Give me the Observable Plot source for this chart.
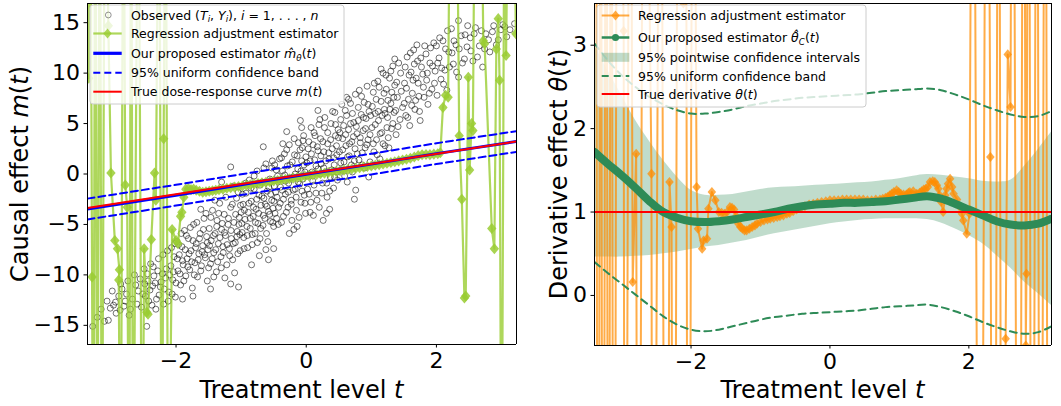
<!DOCTYPE html>
<html><head><meta charset="utf-8">
<script src="https://cdn.jsdelivr.net/npm/d3@7"></script>
<script src="https://cdn.jsdelivr.net/npm/@observablehq/plot@0.6"></script>
<style>
body{margin:0;background:#fff;}
#wrap{display:flex;width:1061px;height:406px;overflow:hidden;}
svg{font-family:"DejaVu Sans";}
</style></head><body><div id="wrap"></div>
<script>
// ---------- Left panel data ----------
const xTicks = [-2, 0, 2];
const yTicksLeft = [-15, -10, -5, 0, 5, 10, 15];
const yTicksRight = [0, 1, 2, 3];

const obsPoints = [
[-3.28,-15.1],[-3.21,-14.2],[-3.15,-13.4],[-3.1,-14.6],[-3.06,-12.6],[-3.04,-14.5],[-3.01,-13.3],
[-2.98,-11.6],[-2.96,-13.0],[-2.92,-13.8],[-2.88,-12.1],[-2.85,-10.9],[-2.8,-13.1],[-2.76,-11.9],[-2.72,-14.0],[-2.67,-12.4],[-2.64,-10.0],[-2.58,-11.6],[-2.53,-13.2],
[-2.49,-9.4],[-2.47,-12.1],[-2.45,-15.1],[-2.43,-10.6],[-2.4,-11.5],[-2.37,-13.0],[-2.35,-9.2],[-2.32,-10.8],[-2.3,-12.4],[-2.27,-8.4],[-2.24,-11.2],[-2.21,-9.9],[-2.19,-12.9],[-2.16,-10.3],[-2.13,-7.6],[-2.11,-11.7],[-2.08,-9.1],[-2.05,-10.5],[-2.03,-8.2],[-2.01,-12.2],
[-1.99,-6.7],[-1.97,-9.6],[-1.95,-8.0],[-1.93,-11.0],[-1.91,-7.2],[-1.89,-9.0],[-1.87,-5.6],[-1.85,-10.1],[-1.83,-8.4],[-1.81,-6.4],[-1.79,-9.5],[-1.77,-7.6],[-1.75,-11.3],[-1.73,-5.0],[-1.71,-8.8],[-1.69,-6.9],[-1.67,-10.2],[-1.65,-7.9],[-1.63,-5.9],[-1.61,-9.1],[-1.59,-7.1],[-1.57,-4.4],[-1.55,-8.3],[-1.53,-6.2],[-1.52,-10.6],[-1.51,-7.5],
[-1.49,-5.4],[-1.47,-8.9],[-1.46,-6.6],[-1.44,-3.6],[-1.42,-7.8],[-1.4,-5.9],[-1.38,-9.7],[-1.37,-4.6],[-1.35,-6.9],[-1.33,-2.9],[-1.31,-8.2],[-1.3,-5.5],[-1.28,-7.2],[-1.26,-4.0],[-1.24,-6.1],[-1.22,-9.0],[-1.2,-5.0],[-1.18,-7.4],[-1.16,-3.3],[-1.15,-6.4],[-1.13,-8.5],[-1.11,-4.8],[-1.09,-6.8],[-1.07,-2.4],[-1.06,-5.7],[-1.05,-7.9],[-1.04,-11.2],[-1.03,-4.3],[-1.02,-6.0],[-1.01,-3.1],[-1.16,-10.9],[-1.47,-11.4],[-1.16,0.7],
[-0.99,-4.9],[-0.98,-2.0],[-0.96,-6.3],[-0.95,-3.6],[-0.93,-0.9],[-0.91,-5.2],[-0.9,-7.3],[-0.88,-2.9],[-0.86,-4.4],[-0.85,-1.4],[-0.83,-6.0],[-0.81,-3.3],[-0.8,-0.2],[-0.78,-4.8],[-0.76,-2.5],[-0.75,-6.8],[-0.73,-3.9],[-0.71,-1.1],[-0.7,-5.4],[-0.68,-2.2],[-0.66,-4.1],[-0.65,0.6],[-0.63,-3.0],[-0.61,-5.9],[-0.6,-1.7],[-0.58,-3.7],[-0.56,-0.5],[-0.55,-4.7],[-0.53,-2.6],[-0.52,1.3],[-0.51,-3.4],[-0.5,-5.2],[-0.72,-8.1],[-0.62,-7.5],[-0.66,2.7],[-0.5,-7.4],
[-0.49,-1.2],[-0.48,-3.9],[-0.46,0.4],[-0.45,-2.3],[-0.43,-5.0],[-0.42,-0.6],[-0.4,-2.9],[-0.38,1.6],[-0.37,-1.6],[-0.35,-4.2],[-0.33,-0.1],[-0.32,-2.0],[-0.3,2.4],[-0.28,-3.3],[-0.27,-0.9],[-0.25,0.9],[-0.23,-2.6],[-0.22,-4.6],[-0.2,-0.3],[-0.18,1.9],[-0.17,-1.5],[-0.15,-3.6],[-0.13,0.5],[-0.12,3.1],[-0.1,-1.0],[-0.08,-2.8],[-0.07,1.3],[-0.05,-0.5],[-0.04,3.8],[-0.03,-2.1],[-0.02,0.2],[-0.01,-3.9],[-0.36,3.0],[-0.26,-5.9],[-0.14,-5.2],[-0.06,2.6],[-0.09,5.3],[-0.07,4.6],
[0.01,1.1],[0.02,-1.5],[0.04,3.2],[0.05,0.0],[0.07,-2.8],[0.08,2.0],[0.1,-0.7],[0.12,4.1],[0.13,1.4],[0.15,-1.9],[0.17,2.7],[0.18,0.5],[0.2,-3.3],[0.22,3.5],[0.23,1.0],[0.25,-0.9],[0.27,2.2],[0.28,4.6],[0.3,0.2],[0.32,-2.3],[0.33,3.0],[0.35,1.5],[0.37,-0.3],[0.38,5.0],[0.4,2.5],[0.42,-1.4],[0.43,0.9],[0.45,3.8],[0.47,1.9],[0.48,-0.6],[0.49,4.4],[0.11,-4.1],[0.26,-4.6],[0.36,-3.5],[0.44,6.1],[0.21,5.4],
[0.51,2.2],[0.53,5.4],[0.54,0.4],[0.56,3.5],[0.58,1.2],[0.6,6.3],[0.61,2.8],[0.63,-0.8],[0.65,4.4],[0.66,1.8],[0.68,7.0],[0.7,3.2],[0.71,0.2],[0.73,5.1],[0.75,2.5],[0.76,-1.6],[0.78,4.0],[0.8,6.6],[0.81,1.4],[0.83,3.6],[0.85,7.7],[0.86,2.1],[0.88,5.6],[0.9,0.6],[0.91,4.5],[0.93,2.9],[0.95,6.9],[0.96,-0.3],[0.98,3.9],[0.99,5.8],[0.62,7.6],[0.74,-2.5],
[1.01,4.6],[1.03,8.1],[1.04,2.2],[1.06,6.0],[1.08,3.4],[1.1,9.2],[1.11,5.3],[1.13,1.5],[1.15,7.2],[1.16,4.1],[1.18,10.0],[1.2,6.4],[1.21,2.8],[1.23,8.4],[1.25,5.6],[1.26,3.6],[1.28,9.5],[1.3,7.0],[1.31,4.5],[1.33,10.7],[1.35,6.1],[1.36,8.8],[1.38,3.9],[1.4,7.6],[1.42,11.0],[1.44,5.4],[1.46,8.2],[1.48,6.6],
[1.51,9.0],[1.53,5.8],[1.55,11.6],[1.57,7.4],[1.59,4.8],[1.61,10.1],[1.63,8.0],[1.65,12.3],[1.67,6.4],[1.69,9.5],[1.71,11.2],[1.73,7.7],[1.75,5.3],[1.77,10.6],[1.8,8.6],[1.82,12.7],[1.85,9.3],[1.87,6.9],[1.9,11.0],[1.93,8.4],[1.96,13.0],[1.98,10.2],
[2.01,7.8],[2.04,11.5],[2.07,9.4],[2.1,13.2],[2.13,10.3],[2.16,8.3],[2.19,12.1],[2.23,14.4],[2.26,10.9],[2.3,12.8],[2.34,9.6],[2.38,13.7],[2.43,11.4],[2.47,12.6],[2.34,15.2],[2.0,12.7],
[2.52,13.5],[2.56,11.2],[2.6,14.5],[2.66,12.7],[2.71,10.6],[2.76,13.9],[2.82,12.1],[2.88,14.7],[2.95,13.3],
[3.02,14.8],[3.08,13.6],[3.13,14.3],[3.2,14.9]
];
const obsPoints2 = [
[-2.93,-12.7],[-2.86,-13.5],[-2.83,-11.4],[-2.78,-12.6],[-2.74,-10.6],[-2.7,-13.4],[-2.62,-11.0],[-2.6,-12.9],[-2.55,-10.4],[-2.51,-11.9],
[-2.48,-10.9],[-2.44,-9.9],[-2.42,-12.6],[-2.39,-8.9],[-2.36,-11.1],[-2.34,-10.1],[-2.31,-13.4],[-2.28,-9.6],[-2.26,-12.0],[-2.23,-10.7],[-2.2,-8.0],[-2.18,-11.4],[-2.15,-9.4],[-2.12,-12.6],[-2.1,-10.0],[-2.07,-7.3],[-2.06,-11.9],[-2.04,-9.7],[-2.02,-6.9],[-2.0,-10.8],
[-1.98,-8.4],[-1.96,-7.0],[-1.94,-9.9],[-1.92,-5.9],[-1.9,-8.6],[-1.88,-10.6],[-1.86,-7.5],[-1.84,-6.1],[-1.82,-9.2],[-1.8,-7.9],[-1.78,-5.3],[-1.76,-8.7],[-1.74,-6.6],[-1.72,-10.0],[-1.7,-7.3],[-1.68,-4.8],[-1.66,-8.5],[-1.64,-6.4],[-1.62,-9.6],[-1.6,-7.7],[-1.58,-5.5],[-1.56,-8.0],[-1.54,-3.9],[-1.52,-6.8],[-1.5,-9.3],[-1.62,-3.5],[-1.74,-12.1],[-1.9,-12.4],
[-1.485,-7.1],[-1.465,-4.3],[-1.445,-8.4],[-1.425,-6.1],[-1.405,-2.6],[-1.39,-7.5],[-1.375,-5.2],[-1.36,-8.7],[-1.345,-3.9],[-1.325,-6.3],[-1.305,-9.3],[-1.29,-4.9],[-1.275,-7.8],[-1.255,-5.8],[-1.235,-2.3],[-1.215,-7.0],[-1.195,-4.4],[-1.175,-8.1],[-1.155,-5.6],[-1.135,-3.0],[-1.12,-6.9],[-1.1,-9.8],[-1.085,-4.0],[-1.065,-6.2],[-1.045,-1.8],[-1.035,-5.0],[-1.015,-7.6],[-1.0,-3.8],[-1.25,-10.3],[-1.42,-10.2],[-1.12,-1.2],[-1.3,-0.8],
[-0.985,-5.8],[-0.97,-3.0],[-0.955,-7.4],[-0.94,-4.5],[-0.925,-1.9],[-0.905,-6.1],[-0.89,-3.8],[-0.875,-0.6],[-0.86,-5.4],[-0.845,-2.7],[-0.83,-7.0],[-0.815,-4.2],[-0.8,-1.5],[-0.785,-5.9],[-0.77,-3.5],[-0.755,0.3],[-0.74,-4.9],[-0.725,-2.1],[-0.71,-6.4],[-0.695,-3.1],[-0.68,-0.8],[-0.665,-5.1],[-0.65,-2.4],[-0.635,-4.4],[-0.62,1.0],[-0.605,-3.2],[-0.59,-6.7],[-0.575,-1.3],[-0.56,-4.0],[-0.545,-2.0],[-0.53,0.6],[-0.515,-4.8],[-0.84,-9.0],[-0.58,-8.5],
[-0.495,-2.7],[-0.485,0.9],[-0.47,-1.8],[-0.455,-4.4],[-0.44,-0.2],[-0.425,-3.3],[-0.41,1.5],[-0.395,-1.3],[-0.38,-4.8],[-0.365,0.3],[-0.35,-2.5],[-0.335,2.0],[-0.32,-0.7],[-0.305,-3.8],[-0.29,0.8],[-0.275,-1.8],[-0.26,2.9],[-0.245,-0.4],[-0.23,-3.0],[-0.215,1.2],[-0.2,-1.6],[-0.185,3.5],[-0.17,0.0],[-0.155,-2.3],[-0.14,1.8],[-0.125,-0.8],[-0.11,-4.3],[-0.095,2.4],[-0.08,0.3],[-0.065,-1.7],[-0.05,3.3],[-0.035,0.9],[-0.02,-2.9],[-0.005,1.7],[-0.3,4.2],[-0.19,-5.5],
[0.015,-0.2],[0.03,2.5],[0.045,-2.0],[0.06,1.3],[0.075,4.6],[0.09,0.2],[0.105,2.9],[0.12,-1.1],[0.135,3.8],[0.15,0.8],[0.165,-2.6],[0.18,2.3],[0.195,4.9],[0.21,0.0],[0.225,1.8],[0.24,-1.9],[0.255,3.2],[0.27,0.6],[0.285,5.6],[0.3,1.3],[0.315,-0.9],[0.33,4.1],[0.345,2.1],[0.36,-1.7],[0.375,3.4],[0.39,0.4],[0.405,6.2],[0.42,1.6],[0.435,-0.3],[0.45,4.9],[0.465,2.8],[0.48,0.2],[0.495,3.6],[0.06,-3.8],[0.31,-3.9],[0.18,6.3],
[0.515,4.1],[0.53,1.1],[0.545,6.9],[0.56,2.4],[0.575,4.8],[0.59,-0.2],[0.605,3.9],[0.62,5.8],[0.635,1.7],[0.65,7.4],[0.665,3.0],[0.68,5.0],[0.695,0.9],[0.71,6.0],[0.725,3.7],[0.74,1.3],[0.755,7.9],[0.77,4.7],[0.785,2.0],[0.8,5.3],[0.815,8.3],[0.83,3.1],[0.845,5.9],[0.86,0.9],[0.875,4.3],[0.89,7.1],[0.905,2.6],[0.92,5.5],[0.935,8.7],[0.95,3.4],[0.965,6.2],[0.98,1.2],
[1.015,6.7],[1.03,3.0],[1.045,9.0],[1.06,4.9],[1.075,7.4],[1.09,1.9],[1.105,6.2],[1.12,8.6],[1.135,4.0],[1.15,10.4],[1.165,5.8],[1.18,3.0],[1.195,8.0],[1.21,6.0],[1.225,9.8],[1.24,4.6],[1.255,7.3],[1.27,2.6],[1.285,6.4],[1.3,10.2],[1.315,8.1],[1.33,5.0],[1.345,7.6],[1.36,11.4],[1.375,6.3],[1.39,9.1],[1.41,4.7],[1.45,10.0],
[1.505,7.0],[1.52,10.6],[1.54,8.5],[1.56,5.6],[1.58,9.8],[1.6,12.0],[1.62,6.8],[1.64,9.3],[1.66,10.9],[1.68,7.3],[1.7,12.8],[1.72,9.0],[1.74,6.2],[1.76,11.5],[1.79,9.9],[1.81,7.6],[1.84,11.9],[1.86,10.0],[1.89,8.0],[1.91,12.5],[1.94,10.7],[1.97,9.0],
[2.02,11.0],[2.05,13.5],[2.08,10.5],[2.11,8.9],[2.14,12.4],[2.17,14.2],[2.2,10.6],[2.24,12.0],[2.27,13.2],[2.31,10.1],[2.35,12.4],[2.4,11.0],[2.44,13.8],[2.48,14.7],
[2.53,12.2],[2.58,13.9],[2.63,11.6],[2.69,14.2],[2.74,12.4],[2.8,13.3],[2.86,14.1],[2.92,12.8],[2.99,14.3],[3.05,14.6]
];

const regAdjLeft = [
[-3.34,9.5],[-3.32,40],[-3.29,-10.2],[-3.27,-40],[-3.24,40],[-3.21,-40],[-3.17,40],[-3.14,-40],[-3.09,40],[-3.04,14.7],
[-3.0,0.1],[-2.94,-6.6],[-2.9,-7.4],[-2.87,-9.5],[-2.88,-10.5],[-2.85,-40],[-2.81,40],[-2.78,-1.1],[-2.75,-3.3],[-2.72,-40],
[-2.69,40],[-2.66,-40],[-2.58,40],[-2.52,-40],[-2.49,-7.4],[-2.45,-13.7],[-2.43,-13.9],[-2.38,-6.5],[-2.33,0.1],[-2.31,-2.6],
[-2.26,40],[-2.22,-40],[-2.19,3.5],[-2.16,40],[-2.12,-40],[-2.06,-5.5],[-2.0,-6.6],[-1.97,-6.9],[-1.93,-4.2],[-1.91,-3.8],[-1.88,-2.3],
[-1.85,-1.5],[-1.81,-1.45],[-1.77,-1.55],[-1.73,-1.5],[-1.69,-1.6],[-1.64,-1.7],[-1.59,-1.8],[-1.54,-1.75],[-1.49,-1.7],[-1.44,-1.65],
[-1.39,-1.6],[-1.34,-1.55],[-1.28,-1.5],[-1.22,-1.42],[-1.16,-1.36],[-1.1,-1.3],[-1.04,-1.24],[-0.98,-1.18],[-0.92,-1.12],[-0.86,-1.06],
[-0.8,-1.0],[-0.74,-0.95],[-0.68,-0.88],[-0.62,-0.82],[-0.56,-0.76],[-0.5,-0.7],[-0.44,-0.64],[-0.38,-0.58],[-0.32,-0.52],[-0.26,-0.47],
[-0.2,-0.41],[-0.14,-0.35],[-0.08,-0.29],[-0.02,-0.22],[0.04,-0.16],[0.1,-0.1],[0.16,-0.04],[0.22,0.02],[0.28,0.08],[0.34,0.14],
[0.4,0.2],[0.46,0.26],[0.52,0.32],[0.58,0.38],[0.64,0.44],[0.7,0.5],[0.76,0.56],[0.82,0.62],[0.88,0.68],[0.94,0.74],
[1.0,0.8],[1.06,0.86],[1.12,0.93],[1.18,1.0],[1.24,1.07],[1.3,1.14],[1.36,1.22],[1.42,1.3],[1.48,1.38],[1.54,1.46],
[1.6,1.56],[1.66,1.68],[1.72,1.82],[1.78,1.9],[1.84,1.94],[1.9,1.92],[1.96,1.97],[2.02,2.0],
[2.06,2.1],[2.1,6.6],[2.14,7.8],[2.18,7.6],[2.22,40],[2.3,40],[2.35,3.8],[2.39,-2.5],[2.43,-12.3],[2.45,-12.1],
[2.49,9.6],[2.51,0.4],[2.54,5.0],[2.56,4.3],[2.6,40],[2.67,40],[2.72,13.2],[2.74,12.9],[2.85,-5.4],[2.89,-7.4],
[2.92,12.4],[2.95,15.4],[2.97,9.3],[3.0,-40],[3.05,40],[3.07,11.75],[3.12,40],[3.17,40],[3.22,13.9]
];

const estT = [-3.36, -2, -1, 0, 1, 2, 3.23];
const estM = [-3.47, -2.1, -1.06, -0.03, 0.98, 2.02, 3.22];
const ucbUpperLeft = [-2.44, -1.07, -0.03, 1.0, 2.01, 3.05, 4.25];
const ucbLowerLeft = [-4.5, -3.13, -2.09, -1.06, -0.05, 0.99, 2.19];
const trueT = [-3.36, 3.23];
const trueM = [-3.36, 3.23];
const xDomainLeft = [-3.36, 3.23];
const yDomainLeft = [-16.9, 16.9];

// ---------- Right panel data ----------
const gridT = [-3.39,-3.2,-3.0,-2.8,-2.6,-2.4,-2.2,-2.0,-1.8,-1.6,-1.4,-1.2,-1.0,-0.8,-0.6,-0.4,-0.2,0,0.2,0.4,0.6,0.8,1.0,1.2,1.4,1.6,1.8,2.0,2.2,2.4,2.6,2.8,3.0,3.19];
const thetaHat = [1.72,1.58,1.44,1.29,1.13,1.0,0.93,0.89,0.88,0.89,0.91,0.94,0.97,1.0,1.04,1.07,1.09,1.1,1.11,1.11,1.12,1.13,1.15,1.17,1.19,1.16,1.1,1.03,0.96,0.89,0.85,0.84,0.86,0.92];
const ciUpper = [3.0,2.7,2.4,2.1,1.85,1.62,1.42,1.26,1.2,1.2,1.21,1.24,1.27,1.29,1.3,1.31,1.32,1.33,1.34,1.35,1.36,1.38,1.4,1.43,1.45,1.44,1.42,1.4,1.37,1.36,1.38,1.55,1.75,1.96];
const ciLower = [0.46,0.46,0.46,0.47,0.48,0.5,0.52,0.55,0.58,0.6,0.63,0.66,0.7,0.74,0.77,0.8,0.83,0.86,0.88,0.9,0.91,0.92,0.92,0.92,0.91,0.87,0.8,0.72,0.62,0.48,0.33,0.16,0.02,-0.12];
const ucbUpperRight = [3.02,2.82,2.64,2.5,2.38,2.29,2.22,2.18,2.18,2.2,2.23,2.27,2.3,2.33,2.35,2.37,2.38,2.39,2.4,2.41,2.43,2.45,2.46,2.47,2.48,2.46,2.41,2.35,2.28,2.22,2.17,2.14,2.15,2.21];
const ucbLowerRight = [0.4,0.27,0.14,0.01,-0.12,-0.25,-0.35,-0.41,-0.43,-0.41,-0.37,-0.33,-0.29,-0.26,-0.24,-0.22,-0.21,-0.2,-0.19,-0.18,-0.16,-0.14,-0.13,-0.12,-0.11,-0.14,-0.19,-0.25,-0.32,-0.38,-0.43,-0.46,-0.44,-0.37];
const trueTheta = [1, 1];
const trueThetaT = [-3.39, 3.19];
const xDomainRight = [-3.39, 3.19];
const yDomainRight = [-0.6, 3.5];

const regAdjRight = [
[-3.37,10],[-3.34,-10],[-3.3,10],[-3.27,-10],[-3.22,10],[-3.19,-10],[-3.15,10],[-3.11,-10],[-3.06,10],[-2.97,3.17],
[-2.95,-10],[-2.88,10],[-2.84,0.16],[-2.79,1.7],[-2.76,-10],[-2.68,10],[-2.57,1.46],[-2.55,-10],[-2.44,10],[-2.36,-10],
[-2.31,1.36],[-2.28,0.82],[-2.25,-10],[-2.18,10],[-2.11,3.5],[-2.08,10],[-2.04,-10],[-1.97,10],
[-1.92,1.3],[-1.9,0.8],[-1.84,0.56],[-1.82,0.66],[-1.77,0.68],[-1.75,1.04],[-1.7,1.24],[-1.65,1.14],
[-1.6,1.0],[-1.56,0.99],[-1.52,0.98],[-1.48,1.0],[-1.44,1.06],[-1.41,1.05],[-1.38,1.03],[-1.35,0.95],[-1.32,0.86],[-1.29,0.82],
[-1.26,0.8],[-1.23,0.78],[-1.2,0.78],[-1.16,0.8],[-1.12,0.82],[-1.08,0.84],[-1.05,0.86],[-1.0,0.88],[-0.95,0.9],[-0.9,0.91],
[-0.86,0.92],[-0.81,0.93],[-0.76,0.94],[-0.72,0.95],[-0.67,0.96],[-0.62,0.98],[-0.58,0.99],[-0.53,1.01],[-0.48,1.03],[-0.42,1.05],
[-0.36,1.07],[-0.3,1.09],[-0.24,1.1],[-0.18,1.11],[-0.12,1.12],[-0.06,1.13],[0,1.14],[0.06,1.14],[0.12,1.14],[0.18,1.15],
[0.24,1.15],[0.3,1.15],[0.36,1.15],[0.42,1.15],[0.48,1.15],[0.54,1.14],[0.6,1.14],[0.66,1.15],[0.72,1.15],[0.76,1.16],
[0.8,1.17],[0.83,1.18],[0.86,1.2],[0.89,1.22],[0.92,1.24],[0.96,1.26],[0.99,1.24],[1.02,1.22],[1.06,1.21],[1.1,1.21],
[1.13,1.23],[1.15,1.24],[1.2,1.25],[1.25,1.22],[1.29,1.23],[1.32,1.25],[1.35,1.27],[1.38,1.28],[1.41,1.3],[1.44,1.36],
[1.48,1.37],[1.51,1.36],[1.54,1.32],[1.56,1.28],[1.58,1.2],[1.6,1.12],[1.63,1.0],[1.66,1.2],[1.68,1.28],[1.7,1.34],
[1.73,1.4],[1.76,1.3],[1.78,1.22],[1.83,1.15],[1.87,1.06],[1.9,0.98],[1.92,0.9],[1.97,0.74],[2.01,0.98],
[2.06,10],[2.16,-10],[2.26,10],[2.31,1.66],[2.36,-10],[2.43,10],[2.48,-10],[2.53,-0.52],[2.56,2.89],[2.6,2.26],
[2.63,10],[2.72,-10],[2.79,10],[2.82,-0.6],[2.83,0.26],[2.86,10],[2.91,-10],[2.98,10],[3.03,-10],[3.1,10],[3.15,-10]
];

// ---------- helpers ----------
const diamond = {draw(ctx, size){ const r = Math.sqrt(size/2); ctx.moveTo(0,-r); ctx.lineTo(r*0.85,0); ctx.lineTo(0,r); ctx.lineTo(-r*0.85,0); ctx.closePath(); }};
const zip = (a, b) => a.map((v, i) => ({t: v, v: b[i]}));
const fmt = d3.format("d");

function rich(g, x, y, parts, size, extra) {
  const t = g.append("text").attr("x", x).attr("y", y).attr("font-size", size).attr("fill", "#000")
    .attr("text-anchor", "start").attr("font-family", "DejaVu Sans");
  if (extra) extra(t);
  let shift = 0;
  for (const [s, f] of parts) {
    const ts = t.append("tspan").text(s);
    if (f.includes("i")) ts.attr("font-style", "italic");
    if (f.includes("s")) {
      ts.attr("font-size", size * 0.7);
      if (!shift) { ts.attr("dy", size * 0.22); shift = size * 0.22; }
    } else if (shift) { ts.attr("dy", -shift); shift = 0; }
  }
  return t;
}

const baseStyle = {fontFamily: "DejaVu Sans", fontSize: "22px", color: "black", background: "white", overflow: "visible"};
const frameMarks = (xd, yd) => [
  Plot.ruleX(xd, {stroke: "black", strokeWidth: 1}),
  Plot.ruleY(yd, {stroke: "black", strokeWidth: 1})
];
const obsStyle = {x: d => d[0], y: d => d[1], r: 3, stroke: "#000", strokeOpacity: 0.62, strokeWidth: 0.9, fill: "none", clip: true};

// ---------- Left plot ----------
const left = Plot.plot({
  width: 530, height: 406,
  marginLeft: 87, marginRight: 14, marginTop: 3, marginBottom: 62,
  style: baseStyle,
  x: {domain: xDomainLeft},
  y: {domain: yDomainLeft},
  marks: [
    Plot.dot(obsPoints, obsStyle),
    Plot.dot(obsPoints2, obsStyle),
    Plot.line(regAdjLeft, {x: d => d[0], y: d => d[1], stroke: "#9acd32", strokeOpacity: 0.8, strokeWidth: 2.2, clip: true}),
    Plot.dot(regAdjLeft, {x: d => d[0], y: d => d[1], symbol: diamond, r: 4.4, fill: "#9acd32", fillOpacity: 0.85, stroke: "none", clip: true}),
    Plot.line(zip(estT, estM), {x: "t", y: "v", stroke: "#0000ff", strokeWidth: 3, clip: true}),
    Plot.line(zip(estT, ucbUpperLeft), {x: "t", y: "v", stroke: "#0000ff", strokeWidth: 2, strokeDasharray: "7,4", clip: true}),
    Plot.line(zip(estT, ucbLowerLeft), {x: "t", y: "v", stroke: "#0000ff", strokeWidth: 2, strokeDasharray: "7,4", clip: true}),
    Plot.line(zip(trueT, trueM), {x: "t", y: "v", stroke: "#ff0000", strokeWidth: 2, clip: true}),
    ...frameMarks(xDomainLeft, yDomainLeft),
    Plot.axisX({ticks: xTicks, tickFormat: fmt, tickSize: 3.5, tickPadding: 4, fontSize: 22, label: null}),
    Plot.axisY({ticks: yTicksLeft, tickFormat: fmt, tickSize: 3.5, tickPadding: 4, fontSize: 22, label: null})
  ]
});

// ---------- Right plot ----------
const bandRows = gridT.map((t, i) => ({t, lo: ciLower[i], hi: ciUpper[i]}));
const right = Plot.plot({
  width: 531, height: 406,
  marginLeft: 64, marginRight: 10, marginTop: 3, marginBottom: 61,
  style: baseStyle,
  x: {domain: xDomainRight},
  y: {domain: yDomainRight},
  marks: [
    Plot.areaY(bandRows, {x: "t", y1: "lo", y2: "hi", fill: "#2e8b57", fillOpacity: 0.3, curve: "catmull-rom", clip: true}),
    Plot.line(regAdjRight, {x: d => d[0], y: d => d[1], stroke: "#ff8c00", strokeOpacity: 0.72, strokeWidth: 2, clip: true}),
    Plot.dot(regAdjRight, {x: d => d[0], y: d => d[1], symbol: diamond, r: 4, fill: "#ff8c00", fillOpacity: 0.72, stroke: "none", clip: true}),
    Plot.line(zip(gridT, thetaHat), {x: "t", y: "v", stroke: "#2e8b57", strokeWidth: 8, curve: "catmull-rom", strokeLinecap: "round", clip: true}),
    Plot.line(zip(gridT, ucbUpperRight), {x: "t", y: "v", stroke: "#2e8b57", strokeWidth: 2, strokeDasharray: "7,5", curve: "catmull-rom", clip: true}),
    Plot.line(zip(gridT, ucbLowerRight), {x: "t", y: "v", stroke: "#2e8b57", strokeWidth: 2, strokeDasharray: "7,5", curve: "catmull-rom", clip: true}),
    Plot.line(zip(trueThetaT, trueTheta), {x: "t", y: "v", stroke: "#ff0000", strokeWidth: 2, clip: true}),
    ...frameMarks(xDomainRight, yDomainRight),
    Plot.axisX({ticks: xTicks, tickFormat: fmt, tickSize: 3.5, tickPadding: 4, fontSize: 22, label: null}),
    Plot.axisY({ticks: yTicksRight, tickFormat: fmt, tickSize: 3.5, tickPadding: 4, fontSize: 22, label: null})
  ]
});

const wrap = document.getElementById("wrap");
wrap.appendChild(left);
wrap.appendChild(right);

// ---------- axis labels ----------
const L = d3.select(left), R = d3.select(right);
rich(L, 301.5, 397.5, [["Treatment level ", ""], ["t", "i"]], 24, t => t.attr("text-anchor", "middle"));
rich(R, 292.5, 397.5, [["Treatment level ", ""], ["t", "i"]], 24, t => t.attr("text-anchor", "middle"));
rich(L, 0, 0, [["Causal effect ", ""], ["m", "i"], ["(", ""], ["t", "i"], [")", ""]], 24,
  t => t.attr("text-anchor", "middle").attr("transform", "translate(28,174) rotate(-90)"));
rich(R, 0, 0, [["Derivative effect ", ""], ["θ", "i"], ["(", ""], ["t", "i"], [")", ""]], 24,
  t => t.attr("text-anchor", "middle").attr("transform", "translate(37,174) rotate(-90)"));

// ---------- legends ----------
const fs = 12.5;
function legendBox(g, x, y, w, h) {
  g.append("rect").attr("x", x).attr("y", y).attr("width", w).attr("height", h).attr("rx", 3)
    .attr("fill", "#fff").attr("fill-opacity", 0.8).attr("stroke", "#cccccc").attr("stroke-width", 1);
}
function hline(g, x1, x2, y, color, w, dash, op) {
  const l = g.append("line").attr("x1", x1).attr("x2", x2).attr("y1", y).attr("y2", y)
    .attr("stroke", color).attr("stroke-width", w);
  if (dash) l.attr("stroke-dasharray", dash);
  if (op) l.attr("stroke-opacity", op);
}
function dia(g, cx, cy, color, op) {
  g.append("path").attr("d", `M${cx},${cy-5}L${cx+4.2},${cy}L${cx},${cy+5}L${cx-4.2},${cy}Z`).attr("fill", color).attr("fill-opacity", op);
}

const LG = L.append("g");
legendBox(LG, 90, 5, 254, 99);
const lr = [15, 33.5, 53.3, 72.7, 91.7];
LG.append("circle").attr("cx", 108.3).attr("cy", lr[0]).attr("r", 2.9).attr("fill", "none").attr("stroke", "#000").attr("stroke-opacity", 0.45).attr("stroke-width", 0.9);
hline(LG, 93.3, 121.7, lr[1], "#9acd32", 2.2, null, 0.8); dia(LG, 107.5, lr[1], "#9acd32", 0.8);
hline(LG, 93.3, 121.7, lr[2], "#0000ff", 3.2);
hline(LG, 93.3, 121.7, lr[3], "#0000ff", 2, "7,4");
hline(LG, 93.3, 121.7, lr[4], "#ff0000", 2);
const dy = fs * 0.36;
rich(LG, 131, lr[0] + dy, [["Observed (", ""], ["T", "i"], ["i", "is"], [", ", ""], ["Y", "i"], ["i", "is"], ["), ", ""], ["i", "i"], [" = 1, . . . , ", ""], ["n", "i"]], fs);
rich(LG, 131, lr[1] + dy, [["Regression adjustment estimator", ""]], fs);
rich(LG, 131, lr[2] + dy, [["Our proposed estimator ", ""], ["m\u0302", "i"], ["θ", "is"], ["(", ""], ["t", "i"], [")", ""]], fs);
rich(LG, 131, lr[3] + dy, [["95% uniform confidence band", ""]], fs);
rich(LG, 131, lr[4] + dy, [["True dose-response curve ", ""], ["m", "i"], ["(", ""], ["t", "i"], [")", ""]], fs);

const RG = R.append("g");
legendBox(RG, 67, 5, 269, 102);
const rr = [15.5, 37.5, 57.3, 76, 94];
hline(RG, 71.7, 99.3, rr[0], "#ff8c00", 2, null, 0.72); dia(RG, 85.5, rr[0], "#ff8c00", 0.72);
hline(RG, 71.7, 99.3, rr[1], "#2e8b57", 2.5); RG.append("circle").attr("cx", 85.5).attr("cy", rr[1]).attr("r", 3.6).attr("fill", "#2e8b57");
RG.append("rect").attr("x", 71.7).attr("y", rr[2] - 4.5).attr("width", 27.6).attr("height", 9).attr("fill", "#2e8b57").attr("fill-opacity", 0.3);
hline(RG, 71.7, 99.3, rr[3], "#2e8b57", 2, "7,5");
hline(RG, 71.7, 99.3, rr[4], "#ff0000", 2);
rich(RG, 108, rr[0] + dy, [["Regression adjustment estimator", ""]], fs);
rich(RG, 108, rr[1] + dy, [["Our proposed estimator ", ""], ["θ\u0302", "i"], ["C", "is"], ["(", ""], ["t", "i"], [")", ""]], fs);
rich(RG, 108, rr[2] + dy, [["95% pointwise confidence intervals", ""]], fs);
rich(RG, 108, rr[3] + dy, [["95% uniform confidence band", ""]], fs);
rich(RG, 108, rr[4] + dy, [["True derivative ", ""], ["θ", "i"], ["(", ""], ["t", "i"], [")", ""]], fs);
</script></body></html>
